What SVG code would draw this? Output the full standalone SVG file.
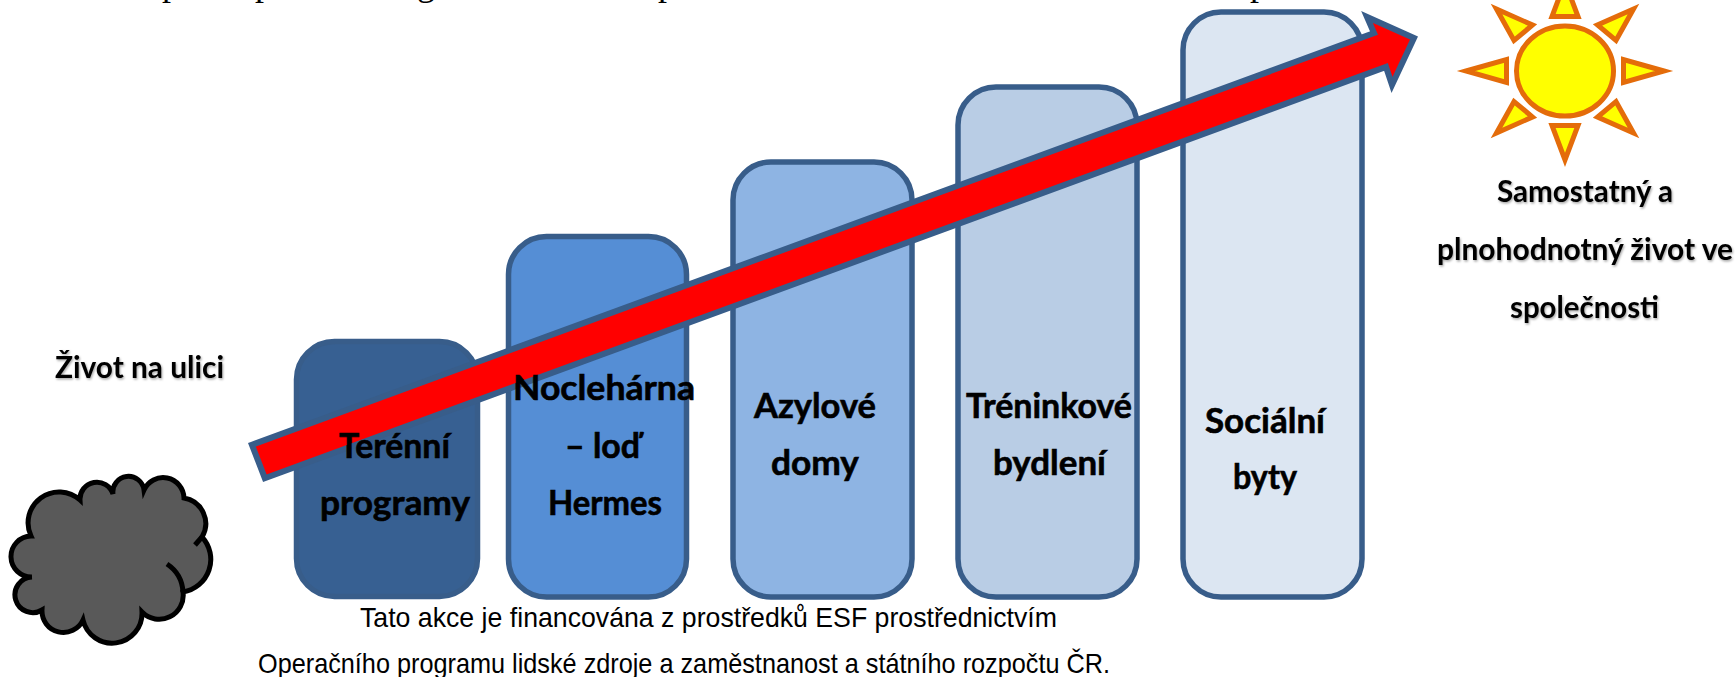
<svg xmlns="http://www.w3.org/2000/svg" width="1736" height="677" viewBox="0 0 1736 677">
<defs>
<filter id="soft" x="-5%" y="-20%" width="110%" height="140%"><feDropShadow dx="1" dy="1.5" stdDeviation="0.8" flood-color="#000" flood-opacity="0.35"/></filter>
</defs>
<style>
.box{stroke:#385D8A;stroke-width:5.5}
.lbl{font-family:"Lato","Noto Sans",sans-serif;font-weight:700;font-size:35px;fill:#000;stroke:#000;stroke-width:.6}
.cal{font-family:"Lato","Noto Sans",sans-serif;font-weight:700;font-size:30px;fill:#000;filter:url(#soft)}
.foot{font-family:"Liberation Sans",Arial,sans-serif;font-size:28px;fill:#000}
.ray{fill:#FFFF00;stroke:#E46C0A;stroke-width:5;stroke-miterlimit:10}
</style>
<rect width="1736" height="677" fill="#fff"/>
<text id="top-cut" x="162 255 417 658 1250" y="-5" font-family="'Liberation Serif',serif" font-size="36" fill="#000">ppgpp</text>
<g id="cloud">
<path id="cloud-body" fill="#595959" stroke="#000" stroke-width="5" d="M31 536A31 31 0 0 1 80 500A16.900 16.900 0 0 1 113 494A15.500 15.500 0 0 1 144 490A20.900 20.900 0 0 1 184 498A26 26 0 0 1 202 537A33 33 0 0 1 183 592A24 24 0 0 1 142 612A29.900 29.900 0 0 1 83 620A21.500 21.500 0 0 1 42 610A17.800 17.800 0 1 1 32 577A20.500 20.500 0 1 1 31 536Z"/>
<path fill="none" stroke="#000" stroke-width="5" d="M195 545L202 537M167 564A36 36 0 0 1 183 592"/>
</g>
<g id="node-teren"><rect class="box" x="296.500" y="341.500" width="181" height="255" rx="38" fill="#376092"/></g>
<g id="node-nocleharna"><rect class="box" x="508.500" y="236.500" width="178" height="360.500" rx="38" fill="#558ED5"/></g>
<g id="node-azyl"><rect class="box" x="733" y="162" width="179" height="435" rx="38" fill="#8EB4E3"/></g>
<g id="node-trenink"><rect class="box" x="958" y="87" width="179" height="510" rx="38" fill="#B9CDE5"/></g>
<g id="node-byty"><rect class="box" x="1183" y="12" width="179" height="585" rx="38" fill="#DCE6F2"/></g>
<g id="connectors">
<polygon points="251.900,444.800 1374,33 1367,17 1414,38 1392,85 1386,67 264.800,478.200" fill="#FF0000" stroke="#385D8A" stroke-width="6" stroke-miterlimit="10"/>
</g>
<g id="labels">
<text class="lbl" x="339" y="458" textLength="111" lengthAdjust="spacingAndGlyphs">Terénní</text>
<text class="lbl" x="320" y="515" textLength="150" lengthAdjust="spacingAndGlyphs">programy</text>
<text class="lbl" x="513" y="400" textLength="182" lengthAdjust="spacingAndGlyphs">Noclehárna</text>
<text class="lbl" x="565" y="458" textLength="75" lengthAdjust="spacingAndGlyphs">– loď</text>
<text class="lbl" x="548" y="515" textLength="114" lengthAdjust="spacingAndGlyphs">Hermes</text>
<text class="lbl" x="754" y="418" textLength="122" lengthAdjust="spacingAndGlyphs">Azylové</text>
<text class="lbl" x="771" y="475" textLength="88" lengthAdjust="spacingAndGlyphs">domy</text>
<text class="lbl" x="966" y="418" textLength="166" lengthAdjust="spacingAndGlyphs">Tréninkové</text>
<text class="lbl" x="993" y="475" textLength="113" lengthAdjust="spacingAndGlyphs">bydlení</text>
<text class="lbl" x="1205" y="433" textLength="120" lengthAdjust="spacingAndGlyphs">Sociální</text>
<text class="lbl" x="1233" y="489" textLength="64" lengthAdjust="spacingAndGlyphs">byty</text>
</g>
<g id="node-sun">
<ellipse class="ray" cx="1565" cy="71" rx="48.500" ry="45"/>
<polygon class="ray" points="1552,16.500 1578,16.500 1565,-18"/>
<polygon class="ray" points="1552,125.500 1578,125.500 1565,160"/>
<polygon class="ray" points="1466,71 1506.500,59.500 1506.500,82.500"/>
<polygon class="ray" points="1664,71 1623.500,59.500 1623.500,82.500"/>
<polygon class="ray" points="1496.500,9 1532.500,25 1514,40.500"/>
<polygon class="ray" points="1633.500,9 1597.500,25 1616,40.500"/>
<polygon class="ray" points="1496.500,133 1532.500,117 1514,101.500"/>
<polygon class="ray" points="1633.500,133 1597.500,117 1616,101.500"/>
</g>
<g id="caption-left"><text class="cal" x="55" y="378" textLength="169" lengthAdjust="spacingAndGlyphs">Život na ulici</text></g>
<g id="caption-right">
<text class="cal" x="1497" y="202" textLength="176" lengthAdjust="spacingAndGlyphs">Samostatný a</text>
<text class="cal" x="1437" y="260" textLength="296" lengthAdjust="spacingAndGlyphs">plnohodnotný život ve</text>
<text class="cal" x="1510" y="318" textLength="149" lengthAdjust="spacingAndGlyphs">společnosti</text>
</g>
<g id="footer">
<text class="foot" x="360" y="627" textLength="697" lengthAdjust="spacingAndGlyphs">Tato akce je financována z prostředků ESF prostřednictvím</text>
<text class="foot" x="258" y="673" textLength="852" lengthAdjust="spacingAndGlyphs">Operačního programu lidské zdroje a zaměstnanost a státního rozpočtu ČR.</text>
</g>
</svg>
